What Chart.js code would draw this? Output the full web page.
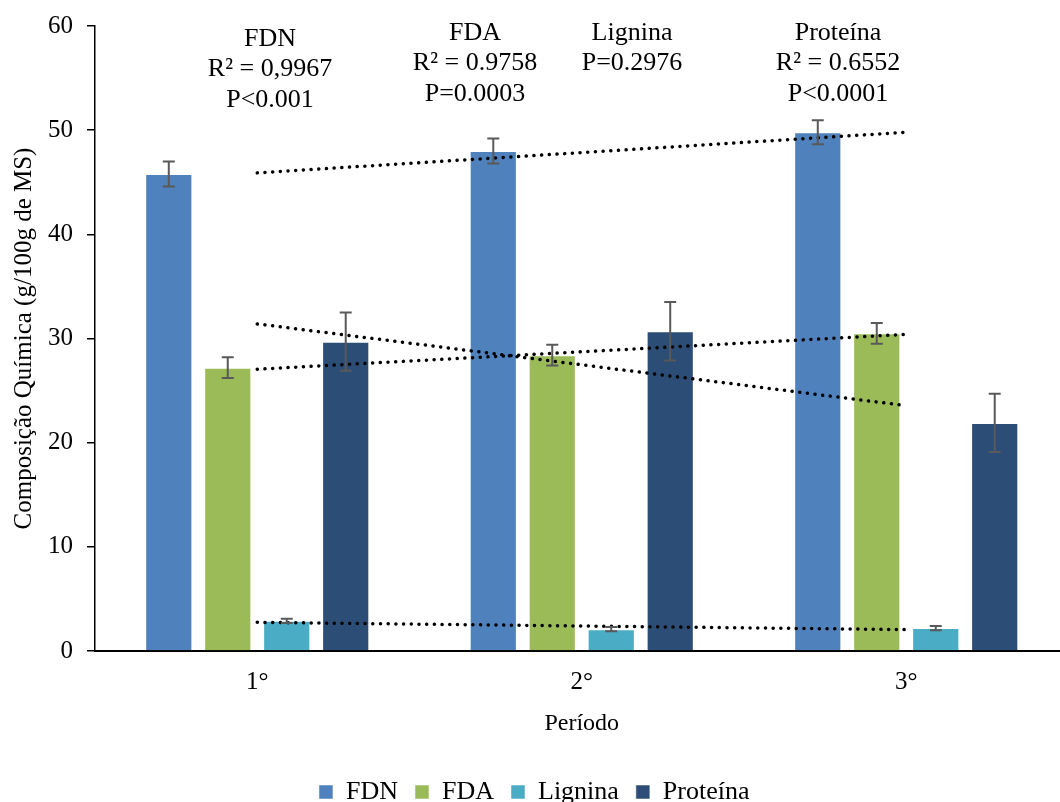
<!DOCTYPE html>
<html>
<head>
<meta charset="utf-8">
<script src="https://cdn.jsdelivr.net/npm/chart.js@4.4.1/dist/chart.umd.min.js"></script>
<style>
  html, body { margin: 0; padding: 0; background: #fff; overflow: hidden; }
  #wrap { width: 1070px; height: 802px; }
</style>
</head>
<body>
<div id="wrap"><canvas id="chart"></canvas></div>
<script>
const periods = ["1°", "2°", "3°"];
const fdn = [45.8, 48.0, 49.8];
const fda = [27.2, 28.4, 30.5];
const lignina = [2.9, 2.1, 2.2];
const proteina = [29.7, 30.7, 21.9];

const fdnErr = [1.2, 1.2, 1.15];
const fdaErr = [1.0, 1.0, 1.0];
const ligninaErr = [0.2, 0.2, 0.2];
const proteinaErr = [2.8, 2.8, 2.8];

// trendline end values (at 1° and 3°)
const fdnTrend = [45.9, null, 49.8];
const fdaTrend = [27.05, null, 30.4];
const ligninaTrend = [2.75, null, 2.05];
const proteinaTrend = [31.4, null, 23.55];

const yTicks = [0, 10, 20, 30, 40, 50, 60];

const notes = [
  { x: 270, y: 39, lines: ["FDN", "R² = 0,9967", "P<0.001"] },
  { x: 475, y: 33, lines: ["FDA", "R² = 0.9758", "P=0.0003"] },
  { x: 632, y: 33, lines: ["Lignina", "P=0.2976"] },
  { x: 838, y: 33, lines: ["Proteína", "R² = 0.6552", "P<0.0001"] }
];

const serif = "'Liberation Serif', 'Times New Roman', serif";

const errorBars = {
  id: "errorBars",
  afterDatasetsDraw(chart) {
    const ctx = chart.ctx;
    const y = chart.scales.y;
    ctx.save();
    ctx.strokeStyle = "#595959";
    ctx.lineWidth = 2;
    chart.data.datasets.forEach((ds, i) => {
      if (!ds.errors) return;
      chart.getDatasetMeta(i).data.forEach((el, j) => {
        const v = ds.data[j], e = ds.errors[j];
        const top = y.getPixelForValue(v + e);
        const bot = y.getPixelForValue(v - e);
        ctx.beginPath();
        ctx.moveTo(el.x, top); ctx.lineTo(el.x, bot);
        ctx.moveTo(el.x - 6, top); ctx.lineTo(el.x + 6, top);
        ctx.moveTo(el.x - 6, bot); ctx.lineTo(el.x + 6, bot);
        ctx.stroke();
      });
    });
    ctx.restore();
  }
};

const textNotes = {
  id: "textNotes",
  afterDraw(chart) {
    const ctx = chart.ctx;
    ctx.save();
    ctx.fillStyle = "#000";
    ctx.font = "26px " + serif;
    ctx.textAlign = "center";
    ctx.textBaseline = "middle";
    notes.forEach(n => {
      n.lines.forEach((t, k) => ctx.fillText(t, n.x, n.y + k * 30.5));
    });
    ctx.restore();
  }
};

// fixed legend box height so the plot area lands where the original has it
const legendHeight = {
  id: "legendHeight",
  beforeInit(chart) {
    const fit = chart.legend.fit;
    chart.legend.fit = function () {
      fit.call(this);
      this.height = 40;
    };
  }
};

function barSet(label, data, errors, color) {
  return {
    type: "bar", label, data, errors,
    backgroundColor: color,
    borderColor: "rgba(255,255,255,0.5)",
    borderWidth: 1,
    order: 2,
    categoryPercentage: 0.727,
    barPercentage: 0.8
  };
}

function trendSet(data) {
  return {
    type: "line", label: "trend", data,
    borderColor: "#000",
    borderWidth: 3.5,
    borderDash: [0.1, 7.6],
    borderCapStyle: "round",
    pointRadius: 0,
    spanGaps: true,
    fill: false,
    order: 0
  };
}

new Chart(document.getElementById("chart"), {
  data: {
    labels: periods,
    datasets: [
      barSet("FDN", fdn, fdnErr, "#4F81BD"),
      barSet("FDA", fda, fdaErr, "#9BBB59"),
      barSet("Lignina", lignina, ligninaErr, "#4BACC6"),
      barSet("Proteína", proteina, proteinaErr, "#2C4D75"),
      trendSet(fdnTrend),
      trendSet(fdaTrend),
      trendSet(ligninaTrend),
      trendSet(proteinaTrend)
    ]
  },
  options: {
    responsive: true,
    maintainAspectRatio: false,
    animation: false,
    layout: { padding: { top: 26, right: 1.5, bottom: 0, left: 0 } },
    plugins: {
      tooltip: { enabled: false },
      legend: {
        position: "bottom",
        labels: {
          filter: item => item.text !== "trend",
          boxWidth: 14, boxHeight: 14,
          padding: 17,
          color: "#000",
          font: { family: serif, size: 26 }
        }
      }
    },
    scales: {
      x: {
        grid: { display: false, drawTicks: false },
        border: { color: "#000", width: 2 },
        ticks: { color: "#000", font: { family: serif, size: 25 }, padding: 16 },
        title: { display: true, text: "Período", color: "#000", font: { family: serif, size: 24 }, padding: { top: 10, bottom: 24 } },
        afterFit: s => { s.height = 111; }
      },
      y: {
        min: 0, max: 60,
        afterBuildTicks: s => { s.ticks = yTicks.map(v => ({ value: v })); },
        grid: { drawOnChartArea: false, drawTicks: true, tickLength: 8, color: "#000", lineWidth: 1.5 },
        border: { color: "#000", width: 1.5 },
        ticks: { color: "#000", font: { family: serif, size: 25 }, padding: 14 },
        title: { display: true, text: "Composição Química (g/100g de MS)", color: "#000", font: { family: serif, size: 25 }, padding: { top: 9, bottom: 4 } },
        afterFit: s => { s.width = 95; s.paddingTop = 10; s.paddingBottom = 10; }
      }
    }
  },
  plugins: [errorBars, textNotes, legendHeight]
});
</script>
</body>
</html>
